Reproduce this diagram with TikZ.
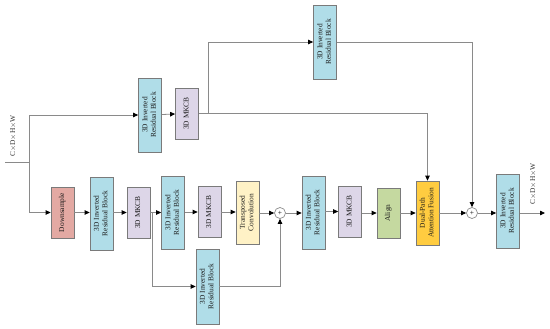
\documentclass[tikz,border=0pt]{standalone}
\usepackage{fontspec}
\setmainfont{Liberation Serif}
\usepackage{graphicx}
\usetikzlibrary{arrows.meta}
\definecolor{lnc}{HTML}{8A8A8A}
\definecolor{bdc}{HTML}{7A7A7A}
\definecolor{irbc}{HTML}{B0DDE8}
\definecolor{mkc}{HTML}{DDD6E8}
\definecolor{dsc}{HTML}{E3A9A3}
\definecolor{tcc}{HTML}{FFF2C6}
\definecolor{alc}{HTML}{C5D9A0}
\definecolor{dpc}{HTML}{FFCC40}
\newcommand{\rtxt}[1]{\rotatebox{90}{\begin{tabular}{@{}c@{}}#1\end{tabular}}}
\tikzset{
  blk/.style={draw=bdc, line width=0.7pt, inner sep=0pt, minimum width=23pt,
    font=\fontsize{7.4}{8.4}\selectfont, text=black!90},
  irb/.style={blk, fill=irbc, minimum height=73pt},
  mk/.style={blk, fill=mkc, minimum height=51pt},
  ln/.style={draw=lnc, line width=0.8pt},
  arr/.style={ln, -{Triangle[length=5pt, width=4.5pt, color=black]}},
  pl/.style={circle, draw=lnc, line width=0.7pt, minimum size=11pt, inner sep=0pt,
    font=\fontsize{7.5}{7.5}\selectfont},
  lab/.style={rotate=90, font=\fontsize{7.4}{8}\selectfont, text=black!80, inner sep=0pt}
}
\begin{document}
\begin{tikzpicture}[x=1pt,y=-1pt]
\useasboundingbox (0,0) rectangle (550,329);
% bottom row
\node[blk, fill=dsc, minimum height=51pt] (ds) at (62.5,212.5) {\rtxt{Downsample}};
\node[irb] (irb1) at (101.5,213.5) {\rtxt{3D Inverted\\Residual Block}};
\node[mk] (mk1) at (138.5,212.5) {\rtxt{3D MKCB}};
\node[irb] (irb2) at (173,212.5) {\rtxt{3D Inverted\\Residual Block}};
\node[mk] (mk2) at (209.5,212) {\rtxt{3D MKCB}};
\node[blk, fill=tcc, minimum height=63pt] (tc) at (247.5,212.5) {\rtxt{Transposed\\Convolution}};
\node[pl] (p1) at (280,213) {+};
\node[irb] (irb3) at (313.5,212.5) {\rtxt{3D Inverted\\Residual Block}};
\node[mk] (mk3) at (350,211.5) {\rtxt{3D MKCB}};
\node[blk, fill=alc, minimum height=50pt] (al) at (388.5,213) {\rtxt{Align}};
\node[blk, fill=dpc, minimum height=64pt] (dp) at (427.5,213) {\rtxt{Dual-Path\\Attention Fusion}};
\node[pl] (p2) at (472,213) {+};
\node[irb, minimum height=74pt] (irb4) at (508,211) {\rtxt{3D Inverted\\Residual Block}};
% branches
\node[irb, minimum height=75pt] (irbB) at (207.5,286.5) {\rtxt{3D Inverted\\Residual Block}};
\node[irb, minimum height=74pt] (irbU) at (150,115) {\rtxt{3D Inverted\\Residual Block}};
\node[mk] (mkU) at (187,113.5) {\rtxt{3D MKCB}};
\node[irb, minimum height=74pt] (irbT) at (325,42) {\rtxt{3D Inverted\\Residual Block}};
% labels
\node[lab] (lin) at (13,136) {C$\times$D$\times$H$\times$W};
\node[lab] (lout) at (533,184) {C$\times$D$\times$H$\times$W};
% coordinates
\coordinate (inL) at (5,162);
\coordinate (inJ) at (29,162);
\coordinate (tapU) at (208,114);
\coordinate (tapB) at (152,212.5);
\coordinate (out) at (545,213);
% connectors
\draw[ln] (inL) -- (inJ);
\draw[arr] (inJ) |- (irbU.west);
\draw[arr] (inJ) |- (ds.west);
\draw[arr] (irbU) -- (mkU);
\draw[arr] (mkU.east) -| (dp.north);
\draw[arr] (tapU) |- (irbT.west);
\draw[arr] (irbT.east) -| (p2.north);
\draw[arr] (ds) -- (ds -| irb1.west);
\draw[arr] (irb1.east |- mk1) -- (mk1.west);
\draw[arr] (mk1) -- (mk1 -| irb2.west);
\draw[arr] (irb2.east |- mk2) -- (mk2.west);
\draw[arr] (mk2.east) -- (mk2.east -| tc.west);
\draw[arr] (tc.east |- p1) -- (p1.west);
\draw[arr] (tapB) |- (irbB.west);
\draw[arr] (irbB.east) -| (p1.south);
\draw[arr] (p1.east) -- (p1 -| irb3.west);
\draw[arr] (irb3.east |- mk3) -- (mk3.west);
\draw[arr] (mk3.east |- al) -- (al.west);
\draw[arr] (al.east) -- (dp.west);
\draw[arr] (dp.east) -- (p2.west);
\draw[arr] (p2.east) -- (p2 -| irb4.west);
\draw[arr] (irb4.east |- out) -- (out);
\end{tikzpicture}
\end{document}
